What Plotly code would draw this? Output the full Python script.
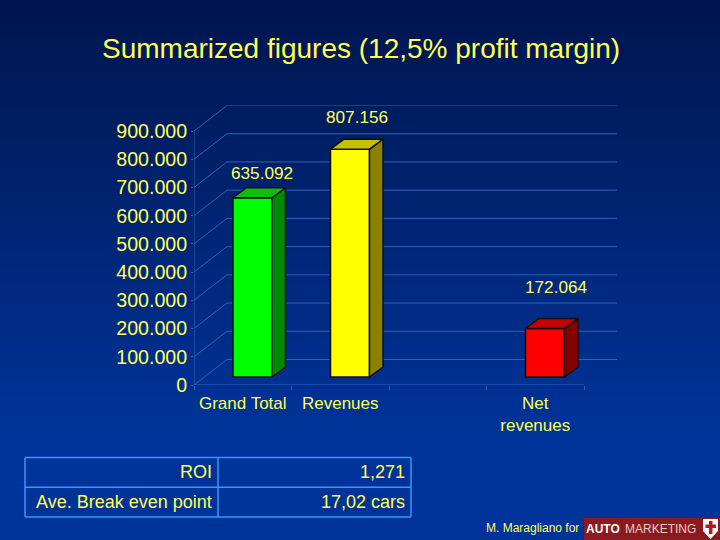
import plotly.graph_objects as go

# ---- data ----
categories = ["Grand Total", "Revenues", "", "Net<br>revenues"]
category_slots = [0.5, 1.5, 2.5, 3.5]
bar_slots = [0.5, 1.5, 3.5]
bar_values = [635092, 807156, 172064]
front_colors = ["#00ff00", "#ffff00", "#ff0000"]
side_colors = ["#008a00", "#8a8200", "#850000"]
top_colors = ["#12bb12", "#c9c000", "#c40000"]
y_ticks = [0, 100000, 200000, 300000, 400000, 500000, 600000, 700000, 800000, 900000]
title_text = "Summarized figures (12,5% profit margin)"
table_left = ["ROI", "Ave. Break even point"]
table_right = ["1,271", "17,02 cars"]
credit_text = "M. Maragliano for"

# ---- layout constants (pixels in the 720x540 slide) ----
W, H = 720, 540
X0, Y0 = 194, 385            # front-plane origin
CAT_PX = 97.5                # width of one category slot
Y_PX = 254 / 900000          # pixels per unit
RIGHT, TOP = 617, 105.5      # plot window extends to the back wall
BACK_X, BACK_Y = 33 / CAT_PX, 25.5 / Y_PX
BAR_X, BAR_Y = 9.75 / CAT_PX, 8 / Y_PX
DEPTH_X, DEPTH_Y = 13.5 / CAT_PX, 10 / Y_PX
BAR_W = 39 / CAT_PX
TEXT = "#ffff55"
GRID = "#2c64b6"
FONT = "Liberation Sans"
X_RANGE = [0, (RIGHT - X0) / CAT_PX]
Y_RANGE = [0, (Y0 - TOP) / Y_PX]
X_DOMAIN = [X0 / W, RIGHT / W]
Y_DOMAIN = [1 - Y0 / H, 1 - TOP / H]


def lerp(a, b, t):
    return round(a + (b - a) * t)


shapes = []
for py in range(0, H, 4):  # vertical background gradient
    t = min(py / 430, 1)
    color = f"rgb(0,{lerp(0x15, 0x33, t)},{lerp(0x4d, 0x99, t)})"
    shapes.append(dict(type="rect", xref="paper", yref="paper", layer="below",
                       x0=0, x1=1, y0=1 - (py + 4) / H, y1=1 - py / H,
                       fillcolor=color, line_width=0))

fig = go.Figure()

# walls: back-wall gridlines, side-wall and floor diagonals, axis lines (lower axes)
grid_x, grid_y = [], []
for v in y_ticks:
    grid_x += [0, BACK_X, 4 + BACK_X, None]
    grid_y += [v, v + BACK_Y, v + BACK_Y, None]
fig.add_trace(go.Scatter(x=grid_x, y=grid_y, mode="lines", line=dict(color=GRID, width=1),
                         hoverinfo="skip", showlegend=False))
fig.add_trace(go.Scatter(x=[0, 0, None, 0, 4], y=[0, y_ticks[-1], None, 0, 0], mode="lines",
                         line=dict(color=GRID, width=1), hoverinfo="skip", showlegend=False))

# bar front faces (overlaid axes, so they cover the walls)
fig.add_trace(go.Bar(x=[s + BAR_X for s in bar_slots], y=bar_values, base=[BAR_Y] * 3, width=BAR_W,
                     xaxis="x2", yaxis="y2",
                     marker=dict(color=front_colors, line=dict(color="#101010", width=1.5)),
                     showlegend=False))

# bar side and top faces, derived from the same values
for s, v, sc, tc in zip(bar_slots, bar_values, side_colors, top_colors):
    xr = s + BAR_X + BAR_W / 2
    xl = s + BAR_X - BAR_W / 2
    yb = BAR_Y
    yt = BAR_Y + v
    fig.add_trace(go.Scatter(
        x=[xr, xr + DEPTH_X, xr + DEPTH_X, xr, xr],
        y=[yb, yb + DEPTH_Y, yt + DEPTH_Y, yt, yb],
        xaxis="x2", yaxis="y2",
        mode="lines", fill="toself", fillcolor=sc, line=dict(color="#101010", width=1.5),
        hoverinfo="skip", showlegend=False))
    fig.add_trace(go.Scatter(
        x=[xl, xr, xr + DEPTH_X, xl + DEPTH_X, xl],
        y=[yt, yt, yt + DEPTH_Y, yt + DEPTH_Y, yt],
        xaxis="x2", yaxis="y2",
        mode="lines", fill="toself", fillcolor=tc, line=dict(color="#101010", width=1.5),
        hoverinfo="skip", showlegend=False))

annotations = []


def page_text(text, x, y, size, anchor="center", color=TEXT, bold=False, family=FONT):
    annotations.append(dict(text=f"<b>{text}</b>" if bold else text, xref="paper", yref="paper",
                            x=x / W, y=1 - y / H, xanchor=anchor, yanchor="middle", showarrow=False,
                            font=dict(family=family, size=size, color=color)))


page_text(title_text, 361, 48, 28)

# data labels: hand-placed in the source slide
label_pos = [(262, 173), (357, 117), (556, 287)]
for v, (lx, ly) in zip(bar_values, label_pos):
    page_text(f"{v:,}".replace(",", "."), lx, ly, 17.2)

# table
TABLE_LINE = "#3399ff"
tx = [25, 218, 411]
ty = [457.5, 487.3, 517]
for px in tx:
    shapes.append(dict(type="line", xref="paper", yref="paper", x0=px / W, x1=px / W,
                       y0=1 - ty[0] / H, y1=1 - ty[2] / H, line=dict(color=TABLE_LINE, width=1.5)))
for py in ty:
    shapes.append(dict(type="line", xref="paper", yref="paper", x0=tx[0] / W, x1=tx[2] / W,
                       y0=1 - py / H, y1=1 - py / H, line=dict(color=TABLE_LINE, width=1.5)))
for i in range(2):
    cy = (ty[i] + ty[i + 1]) / 2 - 0.5
    page_text(table_left[i], 214, cy, 18, "right")
    page_text(table_right[i], 407, cy, 18, "right")

# credit and logo
page_text(credit_text, 581, 528, 12, "right")
shapes.append(dict(type="rect", xref="paper", yref="paper", x0=584 / W, x1=1,
                   y0=0, y1=1 - 518 / H, fillcolor="#8b1a1e", line_width=0))
page_text("AUTO", 584, 528.5, 12, "left", "#ffffff", bold=True, family="Liberation Sans")
page_text("MARKETING", 623, 528.5, 12, "left", "#e8c8c8")
shield = "M 703 519 L 718 519 L 718 531 L 710.5 539 L 703 531 Z"
shield_paper = " ".join(
    tok if tok.isalpha() else (f"{float(tok) / W:.5f}" if i % 3 == 1 else f"{1 - float(tok) / H:.5f}")
    for i, tok in enumerate(shield.split()))
shapes.append(dict(type="path", xref="paper", yref="paper", path=shield_paper,
                   fillcolor="#ffffff", line_width=0))
shapes.append(dict(type="rect", xref="paper", yref="paper", x0=709 / W, x1=712.5 / W,
                   y0=1 - 534 / H, y1=1 - 521 / H, fillcolor="#b01c20", line_width=0))
shapes.append(dict(type="rect", xref="paper", yref="paper", x0=705.5 / W, x1=716 / W,
                   y0=1 - 528 / H, y1=1 - 524.5 / H, fillcolor="#b01c20", line_width=0))

fig.update_layout(
    width=W, height=H, margin=dict(l=0, r=0, t=0, b=0, autoexpand=False),
    paper_bgcolor="#003399", plot_bgcolor="rgba(0,0,0,0)",
    showlegend=False, shapes=shapes, annotations=annotations,
    font=dict(family=FONT, color=TEXT),
    xaxis=dict(domain=X_DOMAIN, range=X_RANGE,
               showgrid=False, zeroline=False, showline=False,
               tickmode="array", tickvals=category_slots, ticktext=categories,
               ticks="", ticklabelstandoff=6, tickfont=dict(size=17, color=TEXT), tickangle=0,
               minor=dict(tickmode="array", tickvals=[0, 1, 2, 3, 4], ticks="outside",
                          ticklen=4, tickcolor=GRID, tickwidth=1, showgrid=False)),
    yaxis=dict(domain=Y_DOMAIN, range=Y_RANGE,
               showgrid=False, zeroline=False, showline=False,
               tickmode="array", tickvals=y_ticks,
               ticktext=[f"{v:,}".replace(",", ".") for v in y_ticks],
               ticks="outside", ticklen=2, tickcolor=GRID, tickwidth=1,
               ticklabelstandoff=0, tickfont=dict(size=19.6, color=TEXT)),
    xaxis2=dict(overlaying="x", domain=X_DOMAIN, range=X_RANGE, visible=False, anchor="y2"),
    yaxis2=dict(overlaying="y", domain=Y_DOMAIN, range=Y_RANGE, visible=False, anchor="x2"),
)

fig.write_html("out.html", config={"displayModeBar": False},
               post_script="document.documentElement.style.margin='0';document.body.style.margin='0';document.body.style.overflow='hidden';")
